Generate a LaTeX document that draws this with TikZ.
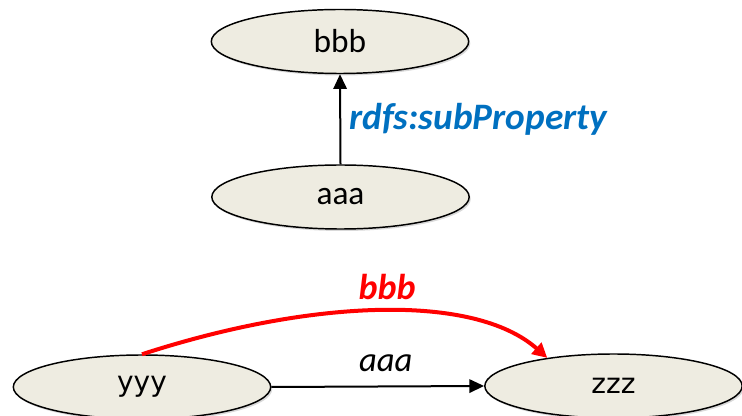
\documentclass[tikz,border=0pt]{standalone}
\usepackage{fontspec}
\setmainfont{Carlito}
\newfontfamily\verdanalike{DejaVu Sans}
\usetikzlibrary{arrows.meta,shapes.geometric,shadows}
\definecolor{nodefill}{RGB}{238,236,225}
\definecolor{labelblue}{RGB}{0,112,192}
\definecolor{arrowred}{RGB}{255,0,0}
\tikzset{
  res/.style={ellipse, draw=black, line width=1.1pt, fill=nodefill,
    minimum width=193pt, minimum height=48pt, inner sep=0pt,
    font=\fontsize{25}{29}\selectfont,
    drop shadow={shadow xshift=1.2pt, shadow yshift=-1.5pt, opacity=0.25, fill=black!60}},
  resv/.style={res, font=\verdanalike\fontsize{21}{25}\selectfont},
  blackarrow/.style={line width=1.5pt, draw=black, -{Triangle[length=11pt,width=10pt]}},
  redarrow/.style={line width=3pt, draw=arrowred, -{Triangle[length=11pt,width=11pt]}},
  proplabel/.style={font=\fontsize{26}{30}\selectfont\itshape},
}
\begin{document}
\begin{tikzpicture}[x=0.75pt,y=-0.75pt]
\useasboundingbox (0,0) rectangle (742,416);
\node[res] (bbb) at (340,41.5) {bbb};
\node[res] (aaa) at (340.5,197) {aaa};
\node[resv] (yyy) at (142,387) {yyy};
\node[resv] (zzz) at (613.5,386) {zzz};
\draw[blackarrow] (aaa.north) -- (bbb.south)
  node[midway, right, inner sep=6pt, text=labelblue, font=\fontsize{28}{32}\selectfont\bfseries\itshape] (sublbl) {rdfs:subProperty};
\draw[blackarrow] (yyy.east) -- (zzz.west)
  node[midway, above, inner sep=10pt, xshift=6pt, proplabel] (aaalbl) {aaa};
\draw[redarrow] (yyy.north) .. controls (312,299) and (474,293) .. (zzz.157);
\node[text=arrowred, font=\fontsize{27}{31}\selectfont\bfseries\itshape] (bbblbl) at (387,287) {bbb};
\end{tikzpicture}
\end{document}
